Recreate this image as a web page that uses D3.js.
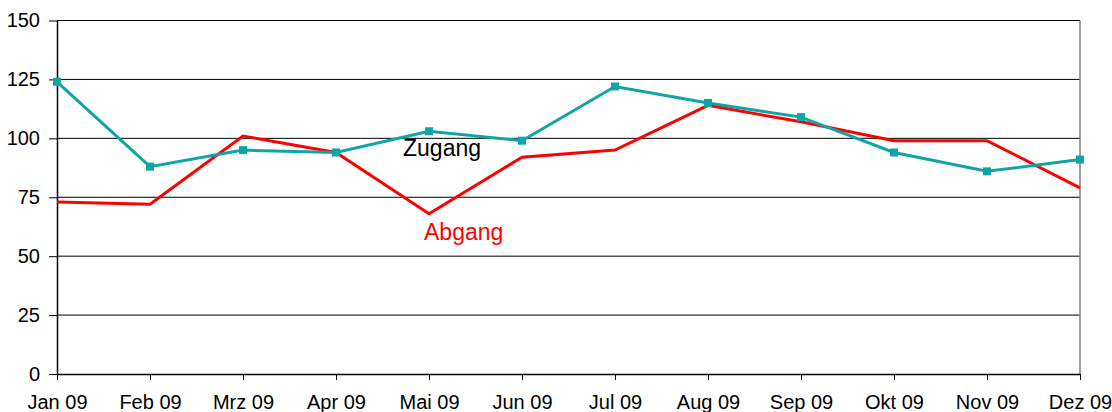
<!DOCTYPE html>
<html>
<head>
<meta charset="utf-8">
<script src="https://cdn.jsdelivr.net/npm/d3@7"></script>
<style>
  body { margin: 0; background: #fff; }
  svg { display: block; font-family: "Liberation Sans", Arial, sans-serif; }
</style>
</head>
<body>
<svg width="1112" height="412"></svg>
<script>
// chart data
const months = ['Jan 09', 'Feb 09', 'Mrz 09', 'Apr 09', 'Mai 09', 'Jun 09',
                'Jul 09', 'Aug 09', 'Sep 09', 'Okt 09', 'Nov 09', 'Dez 09'];
const zugang = [124, 88, 95, 94, 103, 99, 122, 115, 109, 94, 86, 91];
const abgang = [73, 72, 101, 94, 68, 92, 95, 114, 107, 99, 99, 79];
const yTicks = [0, 25, 50, 75, 100, 125, 150];

const svg = d3.select('svg');
const plotLeft = 57, plotRight = 1080, plotTop = 20.5, plotBottom = 374;

const x = d3.scalePoint().domain(months).range([plotLeft, plotRight]);
const y = d3.scaleLinear().domain([0, 150]).range([plotBottom, plotTop]);

// gridlines
svg.append('g')
    .selectAll('line')
    .data(yTicks.filter(d => d > 0))
    .enter()
    .append('line')
    .attr('x1', plotLeft)
    .attr('x2', plotRight)
    .attr('y1', d => y(d))
    .attr('y2', d => y(d))
    .attr('stroke', '#000')
    .attr('stroke-width', 1);

// right border
svg.append('line')
    .attr('x1', plotRight).attr('x2', plotRight)
    .attr('y1', plotTop).attr('y2', plotBottom)
    .attr('stroke', '#808080')
    .attr('stroke-width', 1.5);

// y axis
const yAxis = svg.append('g')
    .attr('transform', `translate(${plotLeft},0)`)
    .call(d3.axisLeft(y).tickValues(yTicks).tickSize(8).tickSizeOuter(0).tickPadding(9));
yAxis.select('.domain').attr('stroke', '#000').attr('stroke-width', 1.5);
yAxis.selectAll('.tick line').attr('stroke', '#000');
yAxis.selectAll('text')
    .attr('font-size', 20)
    .attr('font-family', '"Liberation Sans", Arial, sans-serif')
    .attr('fill', '#000');

// x axis
const xAxis = svg.append('g')
    .attr('transform', `translate(0,${plotBottom})`)
    .call(d3.axisBottom(x).tickSize(6).tickSizeOuter(0).tickPadding(15));
xAxis.select('.domain').attr('stroke', '#000').attr('stroke-width', 1.5);
xAxis.selectAll('.tick line').attr('stroke', '#000');
xAxis.selectAll('text')
    .attr('font-size', 20)
    .attr('font-family', '"Liberation Sans", Arial, sans-serif')
    .attr('fill', '#000');

// lines
const line = d3.line()
    .x((d, i) => x(months[i]))
    .y(d => y(d));

svg.append('path')
    .datum(abgang)
    .attr('d', line)
    .attr('fill', 'none')
    .attr('stroke', '#ff0000')
    .attr('stroke-width', 3);

svg.append('path')
    .datum(zugang)
    .attr('d', line)
    .attr('fill', 'none')
    .attr('stroke', '#10a5a5')
    .attr('stroke-width', 3);

// markers
svg.selectAll('.marker')
    .data(zugang)
    .enter()
    .append('rect')
    .attr('class', 'marker')
    .attr('x', (d, i) => x(months[i]) - 4)
    .attr('y', d => y(d) - 4)
    .attr('width', 8)
    .attr('height', 8)
    .attr('fill', '#10a5a5');

// series labels
svg.append('text')
    .attr('x', 403)
    .attr('y', 156)
    .attr('font-size', 23)
    .attr('fill', '#000')
    .text('Zugang');

svg.append('text')
    .attr('x', 424)
    .attr('y', 239.5)
    .attr('font-size', 23)
    .attr('fill', '#ff0000')
    .text('Abgang');
</script>
</body>
</html>
